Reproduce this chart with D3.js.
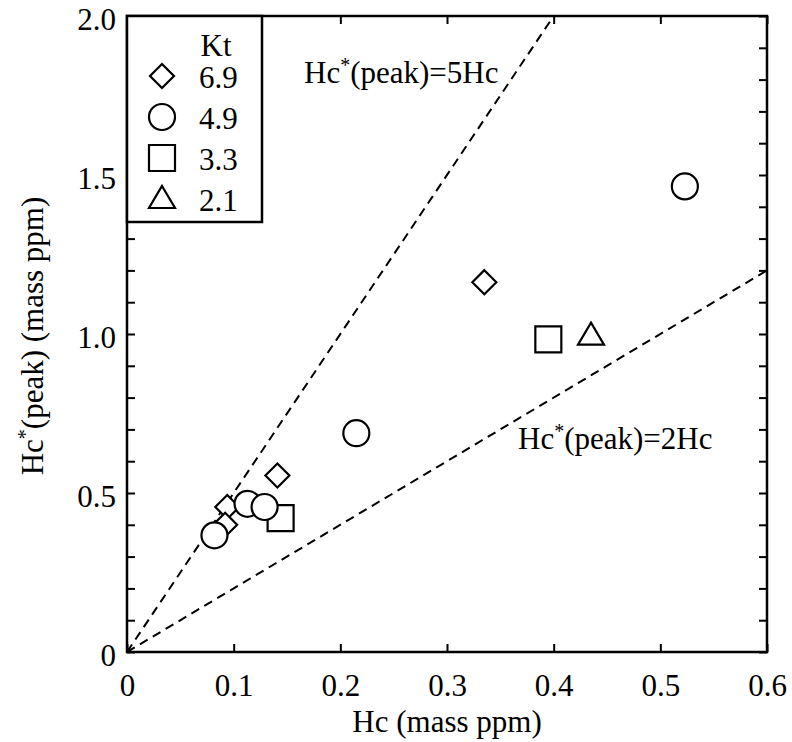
<!DOCTYPE html>
<html>
<head>
<meta charset="utf-8">
<script src="https://cdn.jsdelivr.net/npm/d3@7"></script>
<style>
  body { margin: 0; background: #fff; }
  text { font-family: "Liberation Serif", "Times New Roman", serif; fill: #000; }
</style>
</head>
<body>
<svg id="chart"></svg>
<script>
// Kt groups and their points (Hc, Hc*(peak)) in mass ppm
const ktLabels = ["6.9", "4.9", "3.3", "2.1"];
const ktShapes = ["diamond", "circle", "square", "triangle"];

const diamondPts = [[0.094, 0.456], [0.092, 0.40], [0.141, 0.555], [0.335, 1.163]];
const circlePts = [[0.082, 0.367], [0.113, 0.466], [0.129, 0.456], [0.215, 0.688], [0.523, 1.464]];
const squarePts = [[0.144, 0.421], [0.395, 0.983]];
const trianglePts = [[0.435, 0.995]];

const xTicks = [0, 0.1, 0.2, 0.3, 0.4, 0.5, 0.6];
const xTickLabels = ["0", "0.1", "0.2", "0.3", "0.4", "0.5", "0.6"];
const yTicks = [0, 0.5, 1.0, 1.5, 2.0];
const yTickLabels = ["0", "0.5", "1.0", "1.5", "2.0"];
const yMinorTicks = d3.range(0, 2.001, 0.1);

// reference lines Hc*(peak) = k * Hc
const refSlopes = [5, 2];

const svgWidth = 792, svgHeight = 742;
const margin = {top: 16, right: 25, bottom: 90, left: 127};
const width = svgWidth - margin.left - margin.right,
      height = svgHeight - margin.top - margin.bottom;

const svg = d3.select("#chart")
    .attr("width", svgWidth)
    .attr("height", svgHeight);

const g = svg.append("g")
    .attr("transform", `translate(${margin.left},${margin.top})`);

const xScale = d3.scaleLinear().domain([0, 0.6]).range([0, width]);
const yScale = d3.scaleLinear().domain([0, 2]).range([height, 0]);

const fontSize = 31;

// reference dashed lines, clipped to plot
g.append("clipPath").attr("id", "clip")
  .append("rect").attr("width", width).attr("height", height);

refSlopes.forEach(k => {
  const xEnd = Math.min(0.6, 2 / k);
  g.append("line")
    .attr("clip-path", "url(#clip)")
    .attr("x1", xScale(0)).attr("y1", yScale(0))
    .attr("x2", xScale(xEnd)).attr("y2", yScale(k * xEnd))
    .attr("stroke", "#000")
    .attr("stroke-width", 2)
    .attr("stroke-dasharray", "9,6");
});

// labels for the reference lines
function starLabel(parent, x, y, anchor) {
  const t = parent.append("text")
    .attr("x", x).attr("y", y)
    .attr("text-anchor", anchor)
    .style("font-size", fontSize + "px");
  t.append("tspan").text("Hc");
  t.append("tspan").attr("dy", -11).style("font-size", "20px").text("*");
  t.append("tspan").attr("dy", 11).text("(peak)");
  return t;
}

const lab1 = starLabel(g, 304 - margin.left, 83 - margin.top, "start");
lab1.append("tspan").text("=5Hc");
const lab2 = starLabel(g, 518 - margin.left, 449 - margin.top, "start");
lab2.append("tspan").text("=2Hc");

// axes
const axisG = g.append("g").attr("class", "axes");

// frame
axisG.append("rect")
  .attr("width", width).attr("height", height)
  .attr("fill", "none").attr("stroke", "#000").attr("stroke-width", 2.5);

const xAxisBottom = d3.axisBottom(xScale).tickValues(xTicks)
  .tickSizeInner(-8).tickSizeOuter(0)
  .tickFormat((d, i) => xTickLabels[i]).tickPadding(22);
const xAxisTop = d3.axisTop(xScale).tickValues(xTicks)
  .tickSizeInner(-8).tickSizeOuter(0).tickFormat("");
const yAxisLeft = d3.axisLeft(yScale).tickValues(yMinorTicks)
  .tickSizeInner(-8).tickSizeOuter(0).tickFormat("");
const yAxisRight = d3.axisRight(yScale).tickValues(yMinorTicks)
  .tickSizeInner(-8).tickSizeOuter(0).tickFormat("");
const yAxisLabels = d3.axisLeft(yScale).tickValues(yTicks)
  .tickSize(0).tickPadding(11).tickFormat((d, i) => yTickLabels[i]);

function styleAxis(sel) {
  sel.select(".domain").remove();
  sel.selectAll(".tick line").attr("stroke", "#000").attr("stroke-width", 2);
  sel.selectAll(".tick text")
    .style("font-size", fontSize + "px")
    .style("font-family", '"Liberation Serif", "Times New Roman", serif')
    .attr("fill", "#000");
}

axisG.append("g").attr("transform", `translate(0,${height})`).call(xAxisBottom).call(styleAxis);
axisG.append("g").call(xAxisTop).call(styleAxis);
axisG.append("g").call(yAxisLeft).call(styleAxis);
axisG.append("g").attr("transform", `translate(${width},0)`).call(yAxisRight).call(styleAxis);
axisG.append("g").call(yAxisLabels).call(styleAxis)
  .selectAll(".tick text").attr("dy", "0.45em");

// axis titles
g.append("text")
  .attr("x", width / 2).attr("y", height + 80)
  .attr("text-anchor", "middle")
  .style("font-size", fontSize + "px")
  .text("Hc (mass ppm)");

const yt = g.append("text")
  .attr("transform", `translate(${43 - margin.left},${height / 2 + 2}) rotate(-90)`)
  .attr("text-anchor", "middle")
  .style("font-size", fontSize + "px");
yt.append("tspan").text("Hc");
yt.append("tspan").attr("dy", -11).style("font-size", "20px").text("*");
yt.append("tspan").attr("dy", 11).text("(peak) (mass ppm)");

// symbol drawing
function shapePath(shape) {
  if (shape === "diamond") return "M0,-12L12,0L0,12L-12,0Z";
  if (shape === "square") return "M-13,-13H13V13H-13Z";
  if (shape === "triangle") return "M0,-13L13,9H-13Z";
  return null;
}

function drawSymbol(parent, shape, x, y) {
  if (shape === "circle") {
    parent.append("circle").attr("cx", x).attr("cy", y).attr("r", 13)
      .attr("fill", "#fff").attr("stroke", "#000").attr("stroke-width", 2.2);
  } else {
    parent.append("path").attr("transform", `translate(${x},${y})`)
      .attr("d", shapePath(shape))
      .attr("fill", "#fff").attr("stroke", "#000").attr("stroke-width", 2.2);
  }
}

const pts = g.append("g").attr("class", "points");
const drawOrder = [[trianglePts, "triangle"], [squarePts, "square"], [diamondPts, "diamond"], [circlePts, "circle"]];
drawOrder.forEach(([data, shape]) => {
  data.forEach(d => drawSymbol(pts, shape, xScale(d[0]), yScale(d[1])));
});

// legend
const legend = g.append("g").attr("class", "legend");
legend.append("rect")
  .attr("x", 0).attr("y", 0).attr("width", 262 - margin.left).attr("height", 222 - margin.top)
  .attr("fill", "#fff").attr("stroke", "#000").attr("stroke-width", 2.5);
legend.append("text")
  .attr("x", 216 - margin.left).attr("y", 56 - margin.top)
  .attr("text-anchor", "middle")
  .style("font-size", fontSize + "px")
  .text("Kt");
ktLabels.forEach((lab, i) => {
  const cy = 76 - margin.top + i * 41;
  drawSymbol(legend, ktShapes[i], 162 - margin.left, cy);
  legend.append("text")
    .attr("x", 199 - margin.left).attr("y", cy)
    .attr("dy", "0.38em")
    .style("font-size", fontSize + "px")
    .text(lab);
});
</script>
</body>
</html>
